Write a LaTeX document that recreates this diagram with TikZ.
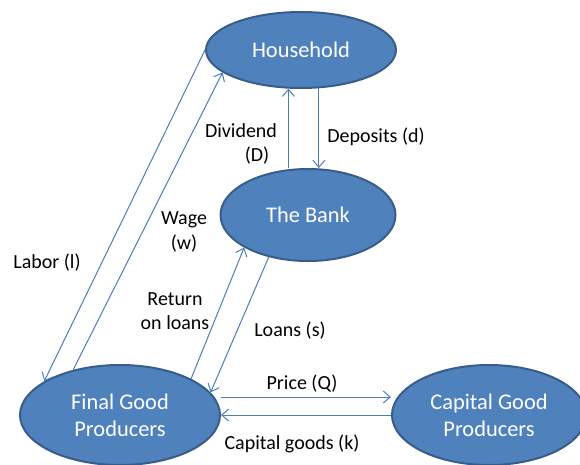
\documentclass[tikz,border=0pt]{standalone}
\usepackage{fontspec}
\setmainfont{Carlito}
\usetikzlibrary{shapes.geometric,arrows.meta}
\definecolor{boxfill}{HTML}{4F81BD}
\definecolor{boxline}{HTML}{385D8A}
\definecolor{arrcol}{HTML}{4A7EBB}
\tikzset{
  ent/.style={ellipse, draw=boxline, line width=2pt, fill=boxfill, text=white,
    inner sep=0pt, align=center, font=\fontsize{22.4}{27}\selectfont},
  lbl/.style={text=black, align=center, inner sep=0pt, font=\fontsize{20}{24.5}\selectfont},
  arr/.style={draw=arrcol, line width=1pt, -{Straight Barb[length=7pt,width=12pt,line width=1pt]}}
}
\begin{document}
\begin{tikzpicture}[x=1pt,y=-1pt]
\useasboundingbox (0,0) rectangle (580,464);
\node[ent, minimum width=190pt, minimum height=76pt] (h) at (301,50) {Household};
\node[ent, minimum width=175pt, minimum height=92pt] (b) at (308,215) {The Bank};
\node[ent, minimum width=200pt, minimum height=100pt] (f) at (120,415) {Final Good\\Producers};
\node[ent, minimum width=194pt, minimum height=100pt] (c) at (489,415) {Capital Good\\Producers};

% Labor and wage
\draw[arr] (h.180) -- (f.156.8);
\draw[arr] (f.136.9) -- (h.196.5);
% Return on loans and loans
\draw[arr] (f.27.9) -- (b.207.6);
\draw[arr] (b.227.7) -- (f.14.6);
% Dividend and deposits
\draw[arr] (b.north -| h.252.3) -- (h.252.3);
\draw[arr] (h.295.5) -- (b.north -| h.295.5);
% Price and capital goods
\draw[arr] ([yshift=18pt]f.east) -- ([yshift=18pt]c.west);
\draw[arr] (c.west) -- (f.east);

\node[lbl] (ldiv) at (241,144) {Dividend\\\hspace*{32pt}(D)};
\node[lbl] (ldep) at (376,137) {Deposits (d)};
\node[lbl] (lwage) at (184,232) {Wage\\(w)};
\node[lbl] (llab) at (47,263) {Labor (l)};
\node[lbl] (lret) at (175,311) {Return\\on loans};
\node[lbl] (lloan) at (290,331) {Loans (s)};
\node[lbl] (lprice) at (302,384) {Price (Q)};
\node[lbl] (lcap) at (292,444) {Capital goods (k)};
\end{tikzpicture}
\end{document}
